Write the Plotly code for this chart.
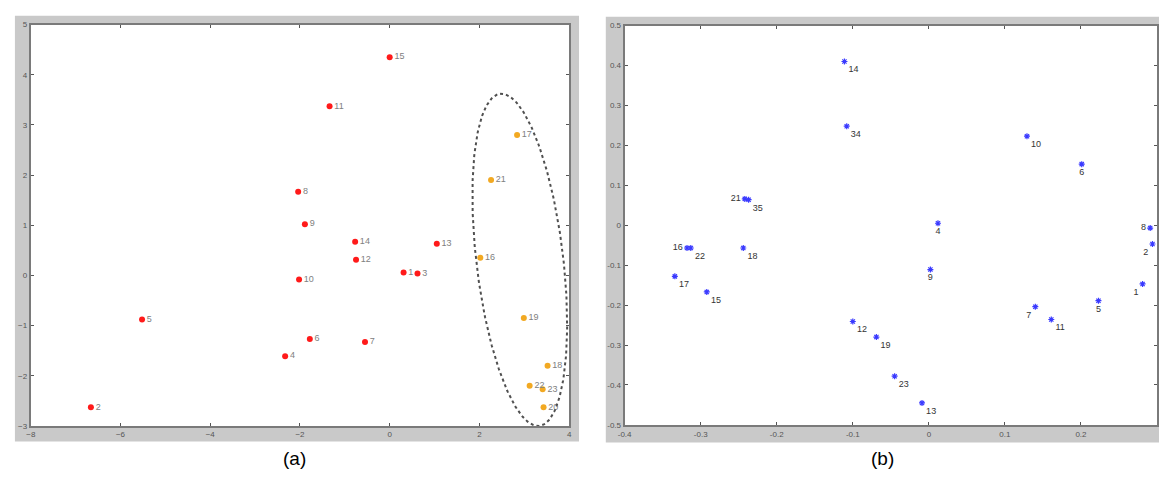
import numpy as np
import plotly.graph_objects as go

W, H = 1162, 477

# ---------- panel (a) data ----------
a_ids = [str(i) for i in range(1, 24)]
a_x = [0.31, -6.66, 0.62, -2.33, -5.52, -1.78, -0.55, -2.04, -1.89, -2.02, -1.34, -0.75,
       1.05, -0.77, 0.00, 2.02, 2.84, 3.52, 2.99, 3.43, 2.26, 3.12, 3.41]
a_y = [0.06, -2.63, 0.04, -1.61, -0.88, -1.27, -1.33, 1.67, 1.02, -0.08, 3.37, 0.31,
       0.63, 0.67, 4.35, 0.35, 2.80, -1.80, -0.85, -2.63, 1.90, -2.20, -2.27]
a_group = ["red"] * 15 + ["orange"] * 8
a_xticks = [-8, -6, -4, -2, 0, 2, 4]
a_yticks = [-3, -2, -1, 0, 1, 2, 3, 4, 5]
# ellipse around the orange group (centre, half-axis vectors in data units)
ell_center = (2.90, 0.31)
ell_major = (-0.44, 3.31)
ell_minor = (0.96, 0.11)

# ---------- panel (b) data ----------
b_ids = ["1", "2", "4", "5", "6", "7", "8", "9", "10", "11", "12", "13", "14", "15",
         "16", "17", "18", "19", "21", "22", "23", "34", "35"]
b_x = [0.281, 0.294, 0.012, 0.223, 0.201, 0.140, 0.291, 0.002, 0.129, 0.161, -0.100,
       -0.009, -0.111, -0.292, -0.318, -0.334, -0.244, -0.069, -0.242, -0.313, -0.045,
       -0.108, -0.237]
b_y = [-0.147, -0.047, 0.005, -0.189, 0.153, -0.204, -0.007, -0.111, 0.223, -0.236,
       -0.241, -0.445, 0.410, -0.167, -0.057, -0.128, -0.057, -0.280, 0.066, -0.057,
       -0.378, 0.248, 0.064]
b_xticks = [-0.4, -0.3, -0.2, -0.1, 0, 0.1, 0.2, 0.3]
b_xticktext = ["-0.4", "-0.3", "-0.2", "-0.1", "0", "0.1", "0.2", "0.3"]
b_yticks = [-0.5, -0.4, -0.3, -0.2, -0.1, 0, 0.1, 0.2, 0.3, 0.4, 0.5]
b_yticktext = ["-0.5", "-0.4", "-0.3", "-0.2", "-0.1", "0", "0.1", "0.2", "0.3", "0.4", "0.5"]

# label placement style for panel b
b_textpos = {"16": "middle left", "21": "middle left", "8": "middle left",
             "2": "bottom left", "1": "bottom left", "7": "bottom left",
             "5": "bottom center", "6": "bottom center", "4": "bottom center",
             "9": "bottom center"}

FONT = "Liberation Sans, Arial, sans-serif"
fig = go.Figure()

# panel a points
colors = {"red": "#ff1a1a", "orange": "#f2a922"}
for g in ["red", "orange"]:
    idx = [i for i, gg in enumerate(a_group) if gg == g]
    fig.add_trace(go.Scatter(
        x=[a_x[i] for i in idx], y=[a_y[i] for i in idx],
        text=[a_ids[i] for i in idx], mode="markers+text",
        textposition="middle right",
        textfont=dict(family=FONT, size=9, color="#808080"),
        marker=dict(size=6, color=colors[g]),
        xaxis="x", yaxis="y", showlegend=False, cliponaxis=False))

# ellipse
t = np.linspace(0, 2 * np.pi, 300)
ex = ell_center[0] + ell_major[0] * np.cos(t) + ell_minor[0] * np.sin(t)
ey = ell_center[1] + ell_major[1] * np.cos(t) + ell_minor[1] * np.sin(t)
fig.add_trace(go.Scatter(x=ex, y=ey, mode="lines",
                         line=dict(color="#505050", width=2, dash="dot"),
                         xaxis="x", yaxis="y", showlegend=False, cliponaxis=False))

# panel b points
fig.add_trace(go.Scatter(
    x=b_x, y=b_y, text=b_ids, mode="markers+text",
    textposition=[b_textpos.get(i, "bottom right") for i in b_ids],
    textfont=dict(family=FONT, size=9, color="#333333"),
    marker=dict(size=5, color="#3a3aff", symbol="asterisk-open",
                line=dict(width=1.2, color="#3a3aff")),
    xaxis="x2", yaxis="y2", showlegend=False, cliponaxis=False))

axis_common = dict(showline=True, linecolor="#7a7a7a", linewidth=2, mirror="ticks",
                   ticks="inside", ticklen=3, tickcolor="#555555", showgrid=False,
                   zeroline=False, tickfont=dict(family=FONT, size=8, color="#555555"))

ax_l, ax_r, ay_t, ay_b = 24, 567, 21, 430
bx_l, bx_r, by_t, by_b = 623, 1160, 22, 429

fig.update_layout(
    width=W, height=H, margin=dict(l=0, r=0, t=0, b=0),
    paper_bgcolor="white", plot_bgcolor="white",
    xaxis=dict(domain=[ax_l / W, ax_r / W], range=[-8, 4], tickvals=a_xticks,
               anchor="y", **axis_common),
    yaxis=dict(domain=[1 - ay_b / H, 1 - ay_t / H], range=[-3, 5], tickvals=a_yticks,
               anchor="x", **axis_common),
    xaxis2=dict(domain=[bx_l / W, bx_r / W], range=[-0.4, 0.3], tickvals=b_xticks,
                ticktext=b_xticktext, anchor="y2", **axis_common),
    yaxis2=dict(domain=[1 - by_b / H, 1 - by_t / H], range=[-0.5, 0.5], tickvals=b_yticks,
                ticktext=b_yticktext, anchor="x2", **axis_common),
    shapes=[
        dict(type="rect", xref="paper", yref="paper", x0=8 / W, x1=577 / W,
             y0=1 - 446 / H, y1=1 - 12 / H, fillcolor="#c9c9c9", line=dict(width=0), layer="below"),
        dict(type="rect", xref="paper", yref="paper", x0=ax_l / W, x1=ax_r / W,
             y0=1 - ay_b / H, y1=1 - ay_t / H, fillcolor="white", line=dict(width=0), layer="below"),
        dict(type="rect", xref="paper", yref="paper", x0=604 / W, x1=1.0,
             y0=1 - 447 / H, y1=1 - 13 / H, fillcolor="#c9c9c9", line=dict(width=0), layer="below"),
        dict(type="rect", xref="paper", yref="paper", x0=bx_l / W, x1=bx_r / W,
             y0=1 - by_b / H, y1=1 - by_t / H, fillcolor="white", line=dict(width=0), layer="below"),
    ],
    annotations=[
        dict(text="(a)", x=290 / W, y=1 - 463 / H, xref="paper", yref="paper",
             xanchor="center", yanchor="middle",
             showarrow=False, font=dict(family=FONT, size=19, color="black")),
        dict(text="(b)", x=883 / W, y=1 - 463 / H, xref="paper", yref="paper",
             xanchor="center", yanchor="middle",
             showarrow=False, font=dict(family=FONT, size=19, color="black")),
    ],
)

fig.write_html("out.html")
